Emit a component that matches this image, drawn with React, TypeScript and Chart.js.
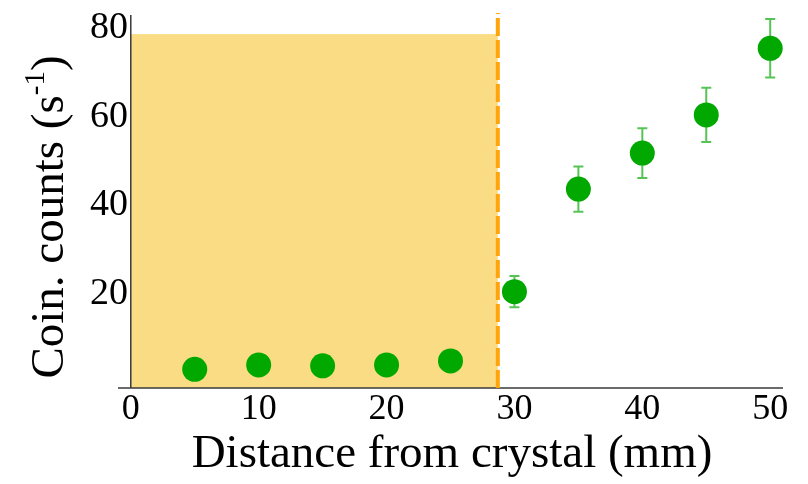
import React, { useEffect, useRef } from 'react';
import { Chart, registerables } from 'chart.js';

Chart.register(...registerables);

// ---- data ----
const distances = [5, 10, 15, 20, 25, 30, 35, 40, 45, 50];
const counts = [4.2, 5.2, 5.0, 5.2, 6.1, 21.7, 44.8, 52.9, 61.5, 76.5];
const errors = [0.8, 0.8, 0.8, 0.8, 0.8, 3.5, 5.1, 5.6, 6.1, 6.6];
const xTicks = [0, 10, 20, 30, 40, 50];
const yTicks = [20, 40, 60, 80];
const crystalEdge = 28.7;
const shadeTop = 79.7;
const xTitle = 'Distance from crystal (mm)';
const yTitleMain = 'Coin. counts (s';
const yTitleSup = '-1';
const yTitleEnd = ')';

const FONT = '"Liberation Serif", "Times New Roman", serif';

const overlayPlugin = {
  id: 'overlay',
  beforeDatasetsDraw(chart: any) {
    const { ctx, chartArea, scales } = chart;
    const x = scales.x;
    const y = scales.y;
    const x0 = x.getPixelForValue(0);
    const x1 = x.getPixelForValue(crystalEdge);
    const yb = y.getPixelForValue(0);
    const yt = y.getPixelForValue(shadeTop);
    ctx.save();
    // shaded crystal region
    ctx.fillStyle = '#FADC84';
    ctx.fillRect(x0, yt, x1 - x0, yb - yt);

    // axes lines
    ctx.strokeStyle = '#3a3a3a';
    ctx.lineWidth = 1.5;
    ctx.beginPath();
    ctx.moveTo(x0, chartArea.top);
    ctx.lineTo(x0, chartArea.bottom);
    ctx.stroke();
    ctx.beginPath();
    ctx.moveTo(chartArea.left, chartArea.bottom);
    ctx.lineTo(chartArea.right, chartArea.bottom);
    ctx.stroke();

    // dashed boundary
    ctx.strokeStyle = '#FFA40A';
    ctx.lineWidth = 4;
    ctx.setLineDash([18, 4]);
    ctx.beginPath();
    ctx.moveTo(x1, chartArea.bottom);
    ctx.lineTo(x1, chartArea.top - 2);
    ctx.stroke();
    ctx.setLineDash([]);

    // error bars
    ctx.strokeStyle = '#55C455';
    ctx.lineWidth = 2;
    for (let i = 0; i < distances.length; i++) {
      const px = x.getPixelForValue(distances[i]);
      const pTop = y.getPixelForValue(counts[i] + errors[i]);
      const pBot = y.getPixelForValue(counts[i] - errors[i]);
      ctx.beginPath();
      ctx.moveTo(px, pTop);
      ctx.lineTo(px, pBot);
      ctx.moveTo(px - 5, pTop);
      ctx.lineTo(px + 5, pTop);
      ctx.moveTo(px - 5, pBot);
      ctx.lineTo(px + 5, pBot);
      ctx.stroke();
    }
    ctx.restore();
  },
  afterDraw(chart: any) {
    const { ctx } = chart;
    ctx.save();
    ctx.fillStyle = '#000';
    // x title
    ctx.font = `47px ${FONT}`;
    ctx.textAlign = 'center';
    ctx.textBaseline = 'alphabetic';
    ctx.fillText(xTitle, 452, 467);

    // y title, rotated, with superscript
    ctx.translate(63, 217);
    ctx.rotate(-Math.PI / 2);
    ctx.textAlign = 'left';
    const mainFont = `47px ${FONT}`;
    const supFont = `29px ${FONT}`;
    ctx.font = mainFont;
    const w1 = ctx.measureText(yTitleMain).width;
    const w3 = ctx.measureText(yTitleEnd).width;
    ctx.font = supFont;
    const w2 = ctx.measureText(yTitleSup).width;
    const start = -(w1 + w2 + w3) / 2;
    ctx.font = mainFont;
    ctx.fillText(yTitleMain, start, 0);
    ctx.font = supFont;
    ctx.fillText(yTitleSup, start + w1, -19);
    ctx.font = mainFont;
    ctx.fillText(yTitleEnd, start + w1 + w2, 0);
    ctx.restore();
  },
};

export default function App() {
  const canvasRef = useRef<HTMLCanvasElement | null>(null);

  useEffect(() => {
    let chart: Chart | null = null;
    let cancelled = false;
    const build = () => {
      if (cancelled || !canvasRef.current) return;
      chart = new Chart(canvasRef.current, {
        type: 'scatter',
        data: {
          datasets: [
            {
              data: distances.map((d, i) => ({ x: d, y: counts[i] })),
              backgroundColor: '#00A800',
              borderWidth: 0,
              pointRadius: 12.5,
              pointHoverRadius: 12.5,
            },
          ],
        },
        options: {
          responsive: false,
          maintainAspectRatio: false,
          animation: false,
          devicePixelRatio: 1,
          layout: { padding: { top: 15, right: 25, left: 0, bottom: 0 } },
          plugins: { legend: { display: false }, tooltip: { enabled: false } },
          scales: {
            x: {
              type: 'linear',
              min: -1,
              max: 51,
              border: { display: false },
              grid: { display: false, drawTicks: false },
              ticks: {
                color: '#000',
                font: { family: FONT, size: 36, lineHeight: 1.2 },
                padding: 0,
                maxRotation: 0,
                autoSkip: false,
              },
              afterBuildTicks: (s: any) => {
                s.ticks = xTicks.map((v) => ({ value: v }));
              },
              afterFit: (s: any) => {
                s.height = 96;
              },
            },
            y: {
              type: 'linear',
              min: 0,
              max: 84,
              border: { display: false },
              grid: { display: false, drawTicks: false },
              ticks: {
                color: '#000',
                font: { family: FONT, size: 38, lineHeight: 1.2 },
                mirror: true,
                crossAlign: 'near',
                padding: -28,
                labelOffset: -5,
                autoSkip: false,
              },
              afterBuildTicks: (s: any) => {
                s.ticks = yTicks.map((v) => ({ value: v }));
              },
              afterFit: (s: any) => {
                s.width = 118;
              },
            },
          },
        },
        plugins: [overlayPlugin],
      });
    };
    if ((document as any).fonts && (document as any).fonts.load) {
      (document as any).fonts
        .load(`36px "Liberation Serif"`)
        .catch(() => {})
        .then(build);
    } else {
      build();
    }
    return () => {
      cancelled = true;
      if (chart) chart.destroy();
    };
  }, []);

  return (
    <div style={{ position: 'fixed', left: 0, top: 0, width: 808, height: 484, background: '#fff' }}>
      <canvas ref={canvasRef} width={808} height={484} style={{ display: 'block' }} />
    </div>
  );
}
